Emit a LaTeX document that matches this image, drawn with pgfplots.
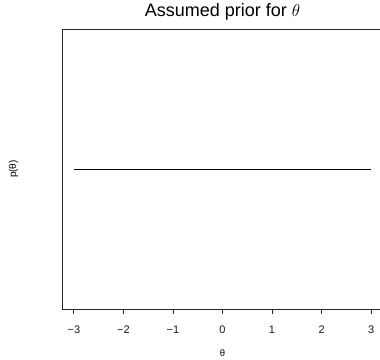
\documentclass[border=0pt]{standalone}
\usepackage{fontspec}
\setmainfont{Liberation Sans}
\usepackage{pgfplots}
\pgfplotsset{compat=1.18}
\begin{document}
\begin{tikzpicture}
\begin{axis}[
  at={(0,0)}, anchor=south west,
  scale only axis, width=321pt, height=280pt,
  xmin=-3.24, xmax=3.24, ymin=0, ymax=1,
  clip=false,
  xtick={-3,-2,-1,0,1,2,3},
  xticklabels={−3,−2,−1,0,1,2,3},
  ytick=\empty,
  xtick pos=left,
  xtick align=outside,
  major tick length=5pt,
  axis line style={line width=0.8pt, black!85},
  xtick style={line width=0.8pt, black!85},
  xticklabel style={font=\fontsize{11}{13}\selectfont, text=black!90, yshift=-8pt},
  title={Assumed prior for $\theta$},
  title style={font=\fontsize{18}{21}\selectfont, anchor=base, at={(axis description cs:0.5,1.022)}},
  xlabel={θ},
  xlabel style={font=\fontsize{9.5}{11}\selectfont, at={(axis description cs:0.5,-0.157)}, anchor=center},
  ylabel={p(θ)},
  ylabel style={font=\fontsize{10}{12}\selectfont, at={(axis description cs:-0.151,0.5)}, anchor=center},
]
\addplot[black, line width=0.8pt] coordinates {(-3,0.5) (3,0.5)};
% tick marks below the bottom axis line
\addplot[ycomb, black!85, line width=0.8pt, mark=none] coordinates {
  (-3,-0.018) (-2,-0.018) (-1,-0.018) (0,-0.018) (1,-0.018) (2,-0.018) (3,-0.018)};
\end{axis}
\pgfresetboundingbox
\useasboundingbox (-62pt,-50pt) rectangle (318pt,309pt);
\end{tikzpicture}
\end{document}
